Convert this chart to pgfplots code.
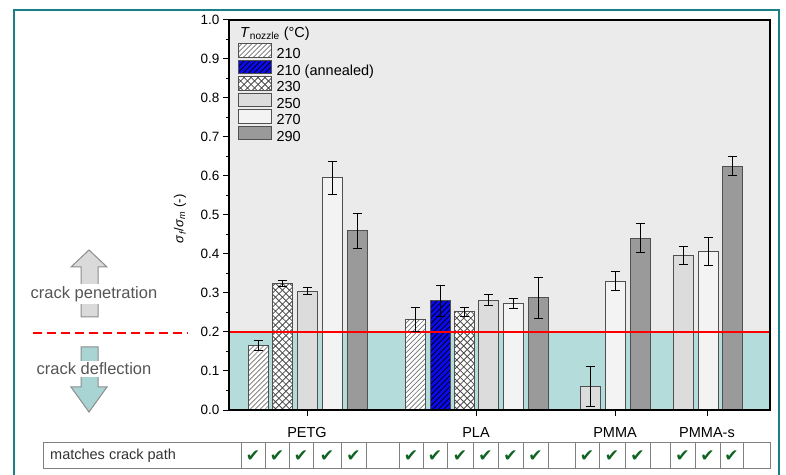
\documentclass[border=0pt]{standalone}
\usepackage{fontspec}
\setmainfont{Liberation Sans}
\newfontfamily\djv{DejaVu Sans}
\usepackage{pgfplots}
\pgfplotsset{compat=1.18}
\usepackage{pgfplotstable}
\usetikzlibrary{patterns}

\definecolor{frameteal}{RGB}{27,127,134}
\definecolor{bgGray}{RGB}{235,235,235}
\definecolor{bgTeal}{RGB}{179,220,218}
\definecolor{barEdge}{RGB}{80,80,80}
\definecolor{c250}{RGB}{220,220,220}
\definecolor{c270}{RGB}{243,243,243}
\definecolor{c290}{RGB}{154,154,154}
\definecolor{annBlue}{RGB}{10,10,235}
\definecolor{chk}{RGB}{15,100,35}
\definecolor{arrUp}{RGB}{218,218,218}
\definecolor{arrDown}{RGB}{168,212,212}
\definecolor{annText}{RGB}{85,85,85}

\pgfdeclarepatternformonly{hatchA}{\pgfqpoint{-1pt}{-1pt}}{\pgfqpoint{6pt}{6pt}}{\pgfqpoint{5pt}{5pt}}%
{\pgfsetlinewidth{0.7pt}\pgfpathmoveto{\pgfqpoint{-0.1pt}{-0.1pt}}\pgfpathlineto{\pgfqpoint{5.1pt}{5.1pt}}\pgfusepath{stroke}}
\pgfdeclarepatternformonly{hatchB}{\pgfqpoint{-1pt}{-1pt}}{\pgfqpoint{6.5pt}{6.5pt}}{\pgfqpoint{5.5pt}{5.5pt}}%
{\pgfsetlinewidth{0.7pt}\pgfpathmoveto{\pgfqpoint{-0.1pt}{-0.1pt}}\pgfpathlineto{\pgfqpoint{5.6pt}{5.6pt}}\pgfusepath{stroke}}
\pgfdeclarepatternformonly{hatchX}{\pgfqpoint{-1pt}{-1pt}}{\pgfqpoint{8pt}{8pt}}{\pgfqpoint{7pt}{7pt}}%
{\pgfsetlinewidth{0.8pt}\pgfpathmoveto{\pgfqpoint{-0.1pt}{-0.1pt}}\pgfpathlineto{\pgfqpoint{7.1pt}{7.1pt}}%
\pgfpathmoveto{\pgfqpoint{-0.1pt}{7.1pt}}\pgfpathlineto{\pgfqpoint{7.1pt}{-0.1pt}}\pgfusepath{stroke}}

% x = horizontal position (image pixels), y = sigma_f/sigma_m, e = error
\pgfplotstableread{
x y e
258 0.165 0.013
415 0.232 0.032
}\tA
\pgfplotstableread{
x y e
440 0.280 0.040
}\tAa
\pgfplotstableread{
x y e
282 0.325 0.008
464 0.252 0.012
}\tB
\pgfplotstableread{
x y e
307 0.305 0.008
488 0.281 0.014
590 0.060 0.052
683 0.396 0.024
}\tC
\pgfplotstableread{
x y e
332 0.595 0.042
513 0.273 0.012
615 0.330 0.024
708 0.407 0.036
}\tD
\pgfplotstableread{
x y e
357 0.460 0.045
538 0.288 0.053
640 0.440 0.037
732 0.625 0.024
}\tE

\pgfplotsset{
  mybar/.style={ybar, bar width=20, bar shift=0pt, draw=barEdge, line width=1bp},
  mybase/.style={ybar, bar width=20, bar shift=0pt, draw=none, forget plot},
  myerr/.style={draw=none, mark=none, forget plot,
    error bars/.cd, y dir=both, y explicit,
    error bar style={draw=black, line width=1bp},
    error mark options={rotate=90, mark size=4.5bp, draw=black, line width=1bp}},
  legWhite/.style={legend image code/.code={\fill[white] (0bp,-2bp) rectangle (33bp,11.5bp);
     \draw[##1] (0bp,-2bp) rectangle (33bp,11.5bp);}},
  legBlue/.style={legend image code/.code={\fill[annBlue] (0bp,-2bp) rectangle (33bp,11.5bp);
     \draw[##1] (0bp,-2bp) rectangle (33bp,11.5bp);}},
}

\begin{document}
\begin{tikzpicture}
\path[use as bounding box] (0,0) rectangle (786bp,475bp);

\begin{axis}[
  at={(229bp,65bp)}, anchor=south west,
  width=541bp, height=390bp, scale only axis,
  xmin=229, xmax=770, ymin=0, ymax=1,
  axis on top,
  axis background/.style={fill=bgGray},
  xtick={307,476,615,707}, xticklabels={PETG,PLA,PMMA,PMMA-s},
  ytick={0,0.1,0.2,0.3,0.4,0.5,0.6,0.7,0.8,0.9,1.0},
  minor y tick num=1,
  /pgf/number format/assume math mode=true,
  yticklabel style={/pgf/number format/.cd, fixed, fixed zerofill, precision=1, /tikz/.cd,
    font=\fontsize{13.5bp}{16bp}\selectfont},
  xticklabel style={font=\fontsize{14.5bp}{17bp}\selectfont, yshift=-8bp},
  tick align=outside, tick pos=left,
  major tick length=6bp, minor tick length=3.5bp,
  tick style={black, line width=1bp},
  axis line style={line width=1.2bp},
  ylabel={\textit{σ}\textsubscript{\textit{f}}/\textit{σ}\textsubscript{\textit{m}} (-)},
  ylabel style={font=\fontsize{13bp}{15bp}\selectfont, at={(axis description cs:-0.0906,0.49)}, anchor=center},
  legend image code/.code={\draw[#1] (0bp,-2bp) rectangle (33bp,11.5bp);},
  legend style={at={(0.0166,0.941)}, anchor=north west, draw=none, fill=none,
    font=\fontsize{14.5bp}{17bp}\selectfont, inner sep=0pt, row sep=-3.8bp, column sep=3bp,
    nodes={inner sep=1.35bp, text height=10.5bp, text depth=3.5bp}},
  legend cell align=left,
  clip=false,
]
% background regions
\addplot[fill=bgTeal, draw=none, forget plot] coordinates {(229,0) (229,0.2) (770,0.2) (770,0)} -- cycle;

% bar bases (under the hatchings)
\addplot[mybase, fill=white] table[x=x,y=y] {\tA};
\addplot[mybase, fill=annBlue] table[x=x,y=y] {\tAa};
\addplot[mybase, fill=white] table[x=x,y=y] {\tB};

% bars
\addplot[mybar, pattern=hatchA, pattern color=black!55, legWhite] table[x=x,y=y] {\tA};
\addlegendentry{210}
\addplot[mybar, pattern=hatchB, pattern color=black, legBlue] table[x=x,y=y] {\tAa};
\addlegendentry{210 (annealed)}
\addplot[mybar, pattern=hatchX, pattern color=black!70, legWhite] table[x=x,y=y] {\tB};
\addlegendentry{230}
\addplot[mybar, fill=c250] table[x=x,y=y] {\tC};
\addlegendentry{250}
\addplot[mybar, fill=c270] table[x=x,y=y] {\tD};
\addlegendentry{270}
\addplot[mybar, fill=c290] table[x=x,y=y] {\tE};
\addlegendentry{290}

% threshold line
\addplot[red, line width=1.6bp, forget plot] coordinates {(229,0.2) (770,0.2)};

% error bars
\addplot[myerr] table[x=x,y=y,y error=e] {\tA};
\addplot[myerr] table[x=x,y=y,y error=e] {\tAa};
\addplot[myerr] table[x=x,y=y,y error=e] {\tB};
\addplot[myerr] table[x=x,y=y,y error=e] {\tC};
\addplot[myerr] table[x=x,y=y,y error=e] {\tD};
\addplot[myerr] table[x=x,y=y,y error=e] {\tE};

\node[anchor=west, inner sep=0pt, font=\fontsize{14.5bp}{17bp}\selectfont]
  at (axis description cs:0.0203,0.966) {\textit{T}\textsubscript{nozzle} (°C)};
\end{axis}

\begin{scope}[yshift=475bp, x=1bp, y=-1bp]
  % frame
  \draw[frameteal, line width=2.5bp] (14,480) -- (14,10) -- (779,10) -- (779,480);
  % up arrow
  \draw[fill=arrUp, draw=black!45, line width=1bp]
    (89,250) -- (107,267) -- (98,267) -- (98,317) -- (81,317) -- (81,267) -- (71,267) -- cycle;
  \node[fill=white, inner sep=2bp, text=annText, font=\fontsize{16.5bp}{19bp}\selectfont]
    at (94,294) {crack penetration};
  % down arrow
  \draw[fill=arrDown, draw=black!45, line width=1bp]
    (81,347) -- (98,347) -- (98,387) -- (107,387) -- (89,412) -- (71,387) -- (81,387) -- cycle;
  \node[fill=white, inner sep=2bp, text=annText, font=\fontsize{16.5bp}{19bp}\selectfont]
    at (94,369) {crack deflection};
  % dashed threshold
  \draw[red, line width=2bp, dash pattern=on 9bp off 5bp] (33,333) -- (188,333);
  % table
  \draw[black!50, line width=1bp] (43,443) rectangle (770,469);
  \foreach \b in {241,265,289,313,341,366,399,423,447,473,498,523,548,575,599,625,650,670,695,720,743}
    \draw[black!50, line width=1bp] (\b,443) -- (\b,469);
  \node[anchor=west, inner sep=0pt, text=black!80, font=\fontsize{14.5bp}{17bp}\selectfont]
    at (50,456) {matches crack path};
  \foreach \c in {253,277,301,327,353.5,411,435,460,485.5,510.5,535.5,587,612,637.5,682.5,707.5,731.5}
    \node[text=chk, inner sep=0pt, font=\fontsize{17bp}{19bp}\djv] at (\c,456) {✔};
\end{scope}
\end{tikzpicture}
\end{document}
